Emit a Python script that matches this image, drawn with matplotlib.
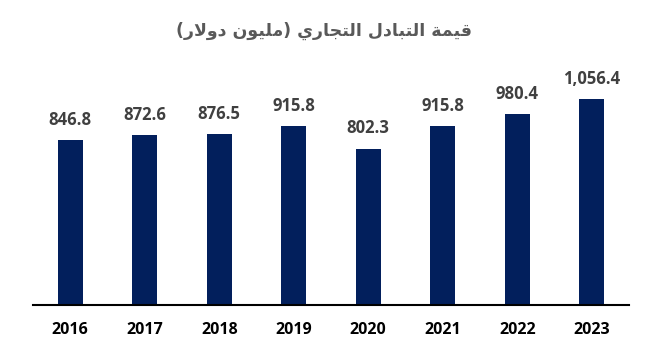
import matplotlib
matplotlib.use("Agg")
import matplotlib.pyplot as plt

years = ["2016", "2017", "2018", "2019", "2020", "2021", "2022", "2023"]
values = [846.8, 872.6, 876.5, 915.8, 802.3, 915.8, 980.4, 1056.4]
value_labels = ["846.8", "872.6", "876.5", "915.8", "802.3", "915.8", "980.4", "1,056.4"]
title_text = "قيمة التبادل التجاري (مليون دولار)"

# Minimal Arabic shaping (presentation forms) + visual reordering
FORMS = {
    # letter: (isolated, final, initial, medial)
    "ا": ("\uFE8D", "\uFE8E", None, None),
    "ب": ("\uFE8F", "\uFE90", "\uFE91", "\uFE92"),
    "ة": ("\uFE93", "\uFE94", None, None),
    "ت": ("\uFE95", "\uFE96", "\uFE97", "\uFE98"),
    "ج": ("\uFE9D", "\uFE9E", "\uFE9F", "\uFEA0"),
    "د": ("\uFEA9", "\uFEAA", None, None),
    "ر": ("\uFEAD", "\uFEAE", None, None),
    "ق": ("\uFED5", "\uFED6", "\uFED7", "\uFED8"),
    "ل": ("\uFEDD", "\uFEDE", "\uFEDF", "\uFEE0"),
    "م": ("\uFEE1", "\uFEE2", "\uFEE3", "\uFEE4"),
    "ن": ("\uFEE5", "\uFEE6", "\uFEE7", "\uFEE8"),
    "و": ("\uFEED", "\uFEEE", None, None),
    "ي": ("\uFEF1", "\uFEF2", "\uFEF3", "\uFEF4"),
}
LAMALEF = ("\uFEFB", "\uFEFC")


def shape(text):
    chars = list(text)
    units = []
    i = 0
    while i < len(chars):
        if chars[i] == "ل" and i + 1 < len(chars) and chars[i + 1] == "ا":
            units.append("LA")
            i += 2
        else:
            units.append(chars[i])
            i += 1

    def joins_next(u):
        if u == "LA":
            return False
        f = FORMS.get(u)
        return f is not None and f[2] is not None

    def is_letter(u):
        return u == "LA" or u in FORMS

    out = []
    for k, u in enumerate(units):
        prev = units[k - 1] if k > 0 else None
        nxt = units[k + 1] if k + 1 < len(units) else None
        jp = prev is not None and is_letter(prev) and joins_next(prev)
        jn = nxt is not None and is_letter(nxt) and joins_next(u)
        if u == "LA":
            out.append(LAMALEF[1] if jp else LAMALEF[0])
        elif u in FORMS:
            iso, fin, ini, med = FORMS[u]
            if jp and jn:
                out.append(med)
            elif jp:
                out.append(fin)
            elif jn:
                out.append(ini)
            else:
                out.append(iso)
        else:
            out.append(u)
    s = "".join(out)[::-1]
    s = s.translate(str.maketrans("()", ")("))
    return s


fig = plt.figure(figsize=(6.49, 3.54), dpi=100)
ax = fig.add_axes([33 / 649, (354 - 305) / 354, 596 / 649, 245 / 354])

x = list(range(len(years)))
bars = ax.bar(x, values, width=0.33, color="#021F5C")
ax.set_xlim(-0.5, len(years) - 0.5)
ax.set_ylim(0, 1256)

for xi, v, lab in zip(x, values, value_labels):
    ax.annotate(lab, (xi, v), xytext=(0, 8), textcoords="offset points",
                ha="center", va="bottom", fontsize=12, fontweight="bold",
                color="#404040", family="Open Sans")

ax.set_xticks(x)
ax.set_xticklabels(years, fontsize=11.5, fontweight="bold", family="Open Sans", color="black")
ax.tick_params(axis="x", length=0, pad=12)
ax.set_yticks([])
for s in ["top", "right", "left"]:
    ax.spines[s].set_visible(False)
ax.spines["bottom"].set_color("black")
ax.spines["bottom"].set_linewidth(1.5)

fig.text(0.5, 1 - 31 / 354, shape(title_text), ha="center", va="center",
         fontsize=12.5, fontweight="bold", color="#595959", family="DejaVu Sans")

fig.savefig("out.png", dpi=100)
